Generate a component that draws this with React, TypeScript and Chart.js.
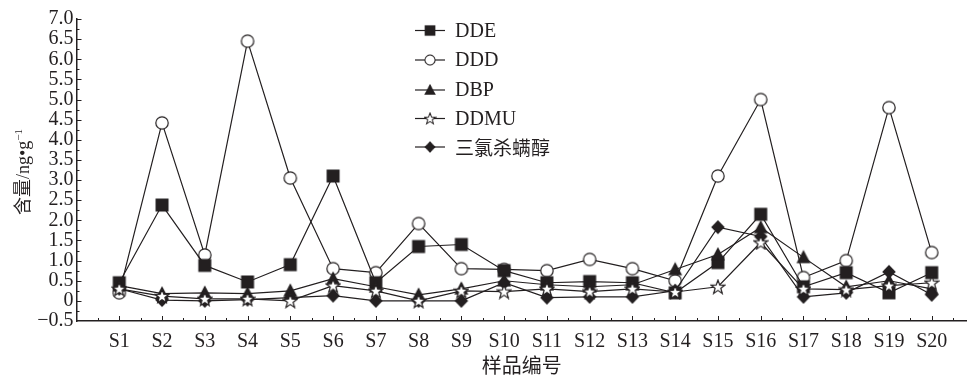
import React, { useEffect, useRef } from 'react';
import { Chart, registerables } from 'chart.js';

Chart.register(...registerables);

const categories = ['S1', 'S2', 'S3', 'S4', 'S5', 'S6', 'S7', 'S8', 'S9', 'S10', 'S11', 'S12', 'S13', 'S14', 'S15', 'S16', 'S17', 'S18', 'S19', 'S20'];
const ddeValues = [0.45, 2.38, 0.88, 0.47, 0.9, 3.1, 0.45, 1.35, 1.4, 0.75, 0.45, 0.48, 0.45, 0.2, 0.95, 2.15, 0.35, 0.7, 0.2, 0.7];
const dddValues = [0.2, 4.42, 1.14, 6.45, 3.05, 0.8, 0.7, 1.92, 0.8, 0.78, 0.75, 1.03, 0.8, 0.5, 3.1, 5.0, 0.58, 1.0, 4.8, 1.2];
const dbpValues = [0.38, 0.18, 0.2, 0.18, 0.25, 0.55, 0.35, 0.15, 0.3, 0.5, 0.4, 0.35, 0.4, 0.78, 1.15, 1.82, 1.08, 0.35, 0.5, 0.3];
const ddmuValues = [0.3, 0.12, 0.05, 0.05, 0.0, 0.38, 0.25, 0.0, 0.25, 0.23, 0.3, 0.23, 0.3, 0.22, 0.35, 1.45, 0.3, 0.28, 0.38, 0.45];
const dicofolValues = [0.3, 0.02, 0.0, 0.03, 0.08, 0.13, 0.0, 0.0, 0.0, 0.45, 0.08, 0.1, 0.1, 0.25, 1.83, 1.6, 0.1, 0.2, 0.72, 0.15];
const seriesNames = ['DDE', 'DDD', 'DBP', 'DDMU', '三氯杀螨醇'];
const markerKinds = ['square', 'circle', 'triangle', 'star', 'diamond'];
const yMin = -0.5;
const yMax = 7.0;
const yStep = 0.5;
const xMax = 20.82;
const xTitle = '样品编号';
const yTitleMain = '含量';
const yTitleUnit = '/ng•g';
const yTitleSup = '−1';

const INK = '#231f20';
const SERIF = '"Liberation Serif", "Times New Roman", serif';
const CJK = '"Noto Sans CJK SC", sans-serif';

function makeMarker(kind: string): HTMLCanvasElement {
  const c = document.createElement('canvas');
  const s = 16;
  c.width = s;
  c.height = s;
  const ctx = c.getContext('2d')!;
  const m = s / 2;
  ctx.fillStyle = INK;
  ctx.strokeStyle = INK;
  ctx.lineWidth = 1.2;
  ctx.beginPath();
  if (kind === 'square') {
    ctx.rect(m - 6.5, m - 6.5, 13, 13);
    ctx.fill();
  } else if (kind === 'circle') {
    ctx.arc(m, m, 6.2, 0, Math.PI * 2);
    ctx.fillStyle = '#ffffff';
    ctx.fill();
    ctx.stroke();
  } else if (kind === 'triangle') {
    ctx.moveTo(m, m - 7.4);
    ctx.lineTo(m + 7, m + 5.8);
    ctx.lineTo(m - 7, m + 5.8);
    ctx.closePath();
    ctx.fill();
  } else if (kind === 'star') {
    const ro = 7.3;
    const ri = 3.0;
    for (let i = 0; i < 10; i++) {
      const r = i % 2 === 0 ? ro : ri;
      const a = -Math.PI / 2 + (i * Math.PI) / 5;
      const px = m + r * Math.cos(a);
      const py = m + 0.6 + r * Math.sin(a);
      if (i === 0) ctx.moveTo(px, py);
      else ctx.lineTo(px, py);
    }
    ctx.closePath();
    ctx.fillStyle = '#ffffff';
    ctx.fill();
    ctx.stroke();
  } else {
    ctx.moveTo(m, m - 7);
    ctx.lineTo(m + 6.8, m);
    ctx.lineTo(m, m + 7);
    ctx.lineTo(m - 6.8, m);
    ctx.closePath();
    ctx.fill();
  }
  return c;
}

export default function App() {
  const canvasRef = useRef<HTMLCanvasElement | null>(null);

  useEffect(() => {
    document.body.style.margin = '0';
    const canvas = canvasRef.current;
    if (!canvas) return;
    const markers = markerKinds.map((k) => makeMarker(k));
    const allValues = [ddeValues, dddValues, dbpValues, ddmuValues, dicofolValues];
    const orders = [3, 4, 2, 0, 1];

    const datasets = allValues.map((vals, si) => ({
      label: seriesNames[si],
      data: vals.map((v, i) => ({ x: i + 1, y: v })),
      borderColor: INK,
      backgroundColor: INK,
      borderWidth: 1.2,
      pointStyle: markers[si],
      pointRadius: 7,
      pointHoverRadius: 7,
      fill: false,
      tension: 0,
      order: orders[si],
    }));

    const tickPlugin = {
      id: 'innerTicks',
      afterDraw(chart: any) {
        const { ctx, chartArea } = chart;
        const xs = chart.scales.x;
        const ys = chart.scales.y;
        ctx.save();
        ctx.strokeStyle = INK;
        ctx.lineWidth = 1;
        const bottom = chartArea.bottom;
        const left = chartArea.left;
        ctx.beginPath();
        for (let k = 1; k <= categories.length; k++) {
          const px = Math.round(xs.getPixelForValue(k)) + 0.5;
          ctx.moveTo(px, bottom);
          ctx.lineTo(px, bottom - 5);
        }
        for (let k = 0.5; k <= xMax; k += 1) {
          const px = Math.round(xs.getPixelForValue(k)) + 0.5;
          ctx.moveTo(px, bottom);
          ctx.lineTo(px, bottom - 3);
        }
        const nMinor = Math.round((yMax - yMin) / (yStep / 2));
        for (let i = 1; i <= nMinor; i++) {
          const v = yMin + (i * yStep) / 2;
          const py = Math.round(ys.getPixelForValue(v)) + 0.5;
          const len = i % 2 === 0 ? 5 : 3;
          ctx.moveTo(left, py);
          ctx.lineTo(left + len, py);
        }
        ctx.stroke();
        ctx.restore();
      },
    };

    const legendPlugin = {
      id: 'customLegend',
      afterDraw(chart: any) {
        const { ctx } = chart;
        const rowsY = [30.5, 60, 90, 118.5, 147];
        ctx.save();
        seriesNames.forEach((name, i) => {
          const y = rowsY[i];
          ctx.strokeStyle = INK;
          ctx.lineWidth = 1.2;
          ctx.beginPath();
          ctx.moveTo(415, y);
          ctx.lineTo(445, y);
          ctx.stroke();
          const mk = markers[i];
          const sz = 13;
          ctx.drawImage(mk, 430 - sz / 2, y - sz / 2, sz, sz);
          ctx.fillStyle = INK;
          ctx.textBaseline = 'middle';
          ctx.textAlign = 'left';
          ctx.font = /[\u4e00-\u9fff]/.test(name) ? `19px ${CJK}` : `20px ${SERIF}`;
          ctx.fillText(name, 455, y + 1);
        });
        ctx.restore();
      },
    };

    const yTitlePlugin = {
      id: 'yTitle',
      afterDraw(chart: any) {
        const { ctx } = chart;
        ctx.save();
        ctx.translate(23, 172);
        ctx.rotate(-Math.PI / 2);
        ctx.fillStyle = INK;
        ctx.textBaseline = 'alphabetic';
        ctx.textAlign = 'left';
        const f1 = `18px ${CJK}`;
        const f2 = `18px ${SERIF}`;
        const f3 = `11px ${SERIF}`;
        ctx.font = f1;
        const w1 = ctx.measureText(yTitleMain).width;
        ctx.font = f2;
        const w2 = ctx.measureText(yTitleUnit).width;
        ctx.font = f3;
        const w3 = ctx.measureText(yTitleSup).width;
        const total = w1 + w2 + w3;
        let x = -total / 2;
        const base = 6;
        ctx.font = f1;
        ctx.fillText(yTitleMain, x, base);
        x += w1;
        ctx.font = f2;
        ctx.fillText(yTitleUnit, x, base);
        x += w2;
        ctx.font = f3;
        ctx.fillText(yTitleSup, x, base - 7);
        ctx.restore();
      },
    };

    const chart = new Chart(canvas, {
      type: 'line',
      data: { datasets: datasets as any },
      options: {
        responsive: false,
        animation: false,
        layout: { padding: { left: 0, right: 0, top: 19, bottom: 0 } },
        plugins: {
          legend: { display: false },
          tooltip: { enabled: false },
        },
        scales: {
          x: {
            type: 'linear',
            min: 0,
            max: xMax,
            grid: { display: false, drawTicks: false },
            border: { display: true, color: INK, width: 1.5 },
            ticks: {
              stepSize: 1,
              includeBounds: false,
              autoSkip: false,
              maxRotation: 0,
              padding: 9,
              color: INK,
              font: { family: SERIF, size: 20 },
              callback: (v: any) => {
                const n = Number(v);
                return Number.isInteger(n) && n >= 1 && n <= categories.length ? categories[n - 1] : '';
              },
            },
            title: {
              display: true,
              text: xTitle,
              color: INK,
              font: { family: CJK, size: 20 },
              padding: { top: 0, bottom: 2 },
            },
            afterFit: (s: any) => {
              s.height = 58;
            },
          },
          y: {
            type: 'linear',
            min: yMin,
            max: yMax,
            grid: { display: false, drawTicks: false },
            border: { display: true, color: INK, width: 1.5 },
            ticks: {
              stepSize: yStep,
              autoSkip: false,
              padding: 3,
              color: INK,
              font: { family: SERIF, size: 20 },
              callback: (v: any) => {
                const n = Math.round(Number(v) * 10) / 10;
                if (n === 0) return '0';
                if (n < 0) return '−' + Math.abs(n).toFixed(1);
                return n.toFixed(1);
              },
            },
            afterFit: (s: any) => {
              s.width = 76.5;
            },
          },
        },
      } as any,
      plugins: [tickPlugin, legendPlugin, yTitlePlugin],
    });

    return () => {
      chart.destroy();
    };
  }, []);

  return (
    <div style={{ width: 975, height: 379, background: '#ffffff' }}>
      <canvas ref={canvasRef} width={975} height={379} style={{ display: 'block' }} />
    </div>
  );
}
